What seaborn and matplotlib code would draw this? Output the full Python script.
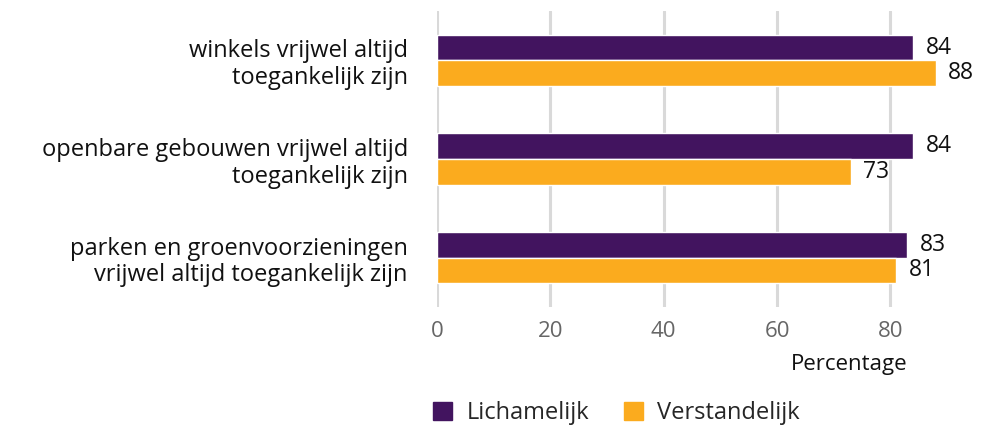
import matplotlib
matplotlib.use('Agg')
import matplotlib.pyplot as plt
import pandas as pd
import seaborn as sns

# data
categories = [
    'winkels vrijwel altijd\ntoegankelijk zijn',
    'openbare gebouwen vrijwel altijd\ntoegankelijk zijn',
    'parken en groenvoorzieningen\nvrijwel altijd toegankelijk zijn',
]
lichamelijk = [84, 84, 83]
verstandelijk = [88, 73, 81]
series_names = ['Lichamelijk', 'Verstandelijk']
x_ticks = [0, 20, 40, 60, 80]

PURPLE = '#42145f'
ORANGE = '#fbab1e'

df = pd.DataFrame({
    'categorie': categories * 2,
    'groep': [series_names[0]] * 3 + [series_names[1]] * 3,
    'waarde': lichamelijk + verstandelijk,
})

sns.set_style('white')
plt.rcParams['font.family'] = ['Open Sans', 'DejaVu Sans']

fig = plt.figure(figsize=(9.81, 4.29), dpi=100)
ax = fig.add_axes([437 / 981, 122 / 429, 544 / 981, 296 / 429])

sns.barplot(data=df, y='categorie', x='waarde', hue='groep',
            palette=[PURPLE, ORANGE], orient='h', width=0.52, gap=0,
            saturation=1, ax=ax, legend=True)

for c in ax.containers:
    ax.bar_label(c, padding=9, fontsize=16.5, color='#111111')

ax.set_xlim(0, 96)
ax.set_ylim(2.5, -0.5)
ax.set_xticks(x_ticks)
ax.grid(axis='x', color='#d9d9d9', linewidth=2.2)
ax.set_axisbelow(True)
for s in ax.spines.values():
    s.set_visible(False)

ax.tick_params(axis='y', length=0, pad=21, labelsize=17, labelcolor='#111111')
ax.tick_params(axis='x', length=0, pad=10, labelsize=16, labelcolor='#666666')
for lab in ax.get_yticklabels():
    lab.set_linespacing(1.15)

ax.set_ylabel('')
ax.set_xlabel('Percentage', loc='right', fontsize=16, color='#111111')
ax.xaxis.set_label_coords(0.865, -0.16)

ax.legend_.remove()
handles = [plt.Rectangle((0, 0), 1, 1, color=PURPLE),
           plt.Rectangle((0, 0), 1, 1, color=ORANGE)]
fig.legend(handles, series_names, loc='center left',
           bbox_to_anchor=(412 / 981, 16 / 429), ncol=2, frameon=False,
           fontsize=17, handlelength=0.8, handleheight=0.8,
           handletextpad=0.6, columnspacing=1.5)

fig.savefig('out.png', dpi=100)
